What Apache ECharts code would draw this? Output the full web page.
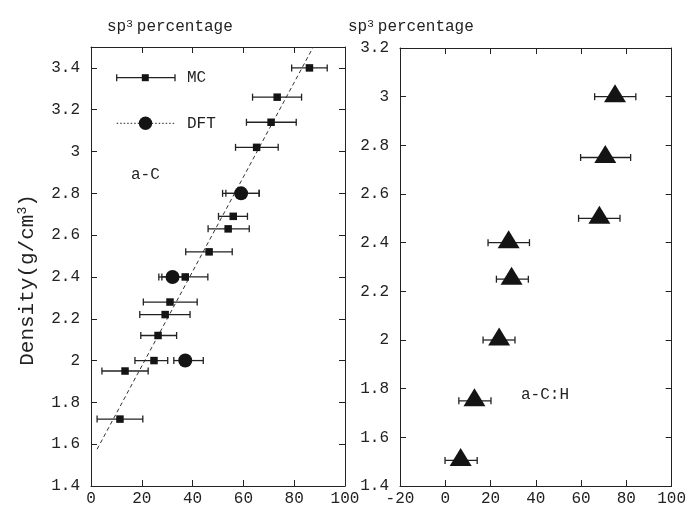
<!DOCTYPE html>
<html>
<head>
<meta charset="utf-8">
<script src="https://cdn.jsdelivr.net/npm/echarts@6/dist/echarts.min.js"></script>
<style>html,body{margin:0;padding:0;background:#fff}#c{width:689px;height:507px}</style>
</head>
<body>
<div id="c"></div>
<script>
// ---- Left panel (a-C): MC points with horizontal error bars
const mcX  = [86.0, 73.3, 70.9, 65.2, 59.5, 56.0, 54.0, 46.5, 37.1, 31.1, 29.2, 26.4, 24.8, 13.4, 11.4];
const mcY  = [3.40, 3.26, 3.14, 3.02, 2.80, 2.69, 2.63, 2.52, 2.40, 2.28, 2.22, 2.12, 2.00, 1.95, 1.72];
const mcLo = [79.0, 63.6, 61.2, 56.9, 53.1, 50.2, 46.1, 37.3, 27.9, 20.6, 19.2, 19.6, 17.3, 4.3, 2.4];
const mcHi = [93.0, 82.9, 80.8, 73.7, 66.2, 61.6, 62.3, 55.6, 46.0, 41.8, 39.0, 33.7, 30.2, 22.5, 20.4];
// DFT points
const dftX  = [59.1, 32.1, 37.1];
const dftY  = [2.80, 2.40, 2.00];
const dftLo = [51.8, 26.7, 32.6];
const dftHi = [66.2, 37.5, 44.2];
// dashed fit line end points
const fitX = [2.4, 87.5];
const fitY = [1.576, 3.50];
// ---- Right panel (a-C:H)
const achX  = [75.0, 70.7, 68.1, 28.0, 29.3, 23.8, 12.9, 6.8];
const achY  = [3.00, 2.75, 2.50, 2.40, 2.25, 2.00, 1.75, 1.505];
const achLo = [66.0, 59.8, 58.9, 18.9, 22.6, 16.7, 6.0, -0.1];
const achHi = [84.2, 81.9, 77.2, 37.2, 36.7, 30.8, 20.2, 14.1];
// axis ranges / labels
const leftXRange = [0, 100], rightXRange = [-20, 100];
const leftYRange = [1.4, 3.5], rightYRange = [1.4, 3.2];
const titleText = 'sp{sup|3}percentage';
const yName = 'Density(g/cm{sup|3})';
const mcName = 'MC', dftName = 'DFT', leftTag = 'a-C', rightTag = 'a-C:H';

const FONT = "'Liberation Mono', 'DejaVu Sans Mono', monospace";
const INK = '#222';
const MARK = '#141414';

const chart = echarts.init(document.getElementById('c'), null, {renderer: 'canvas'});

function zip4(a, b, c, d) { return a.map((v, i) => [v, b[i], c[i], d[i]]); }
function zip2(a, b) { return a.map((v, i) => [v, b[i]]); }

function errRender(params, api) {
  const y = api.value(1), lo = api.value(2), hi = api.value(3);
  const p1 = api.coord([lo, y]), p2 = api.coord([hi, y]);
  const h = 3.5;
  const st = {stroke: INK, lineWidth: 1.3};
  return {type: 'group', children: [
    {type: 'line', shape: {x1: p1[0], y1: p1[1], x2: p2[0], y2: p2[1]}, style: st},
    {type: 'line', shape: {x1: p1[0], y1: p1[1] - h, x2: p1[0], y2: p1[1] + h}, style: st},
    {type: 'line', shape: {x1: p2[0], y1: p2[1] - h, x2: p2[0], y2: p2[1] + h}, style: st}
  ]};
}

function axis(kind, grid, pos, range, interval, showLabel) {
  return {
    type: 'value', gridIndex: grid, position: pos, min: range[0], max: range[1], interval: interval,
    axisLine: {show: true, onZero: false, lineStyle: {color: INK, width: 1}},
    axisTick: {show: true, inside: true, length: 6, lineStyle: {color: INK, width: 1}},
    axisLabel: {show: showLabel, color: INK, fontFamily: FONT, fontSize: 16,
                margin: kind === 'x' ? 5 : 11, showMaxLabel: true},
    splitLine: {show: false}
  };
}

const xAxes = [
  axis('x', 0, 'bottom', leftXRange, 20, true),
  axis('x', 0, 'top', leftXRange, 20, false),
  axis('x', 1, 'bottom', rightXRange, 20, true),
  axis('x', 1, 'top', rightXRange, 20, false)
];
const yAxes = [
  axis('y', 0, 'left', leftYRange, 0.2, true),
  axis('y', 0, 'right', leftYRange, 0.2, false),
  axis('y', 1, 'left', rightYRange, 0.2, true),
  axis('y', 1, 'right', rightYRange, 0.2, false)
];
yAxes[0].axisLabel.showMaxLabel = false;

const supRich = {sup: {fontSize: 11, fontFamily: FONT, fill: INK, verticalAlign: 'top', lineHeight: 12, padding: [0, 4, 0, 0]}};

function txt(x, y, text, size) {
  return {
    type: 'text', x: x, y: y, silent: true,
    style: {text: text, fill: INK, font: size + 'px ' + FONT, align: 'left', verticalAlign: 'middle'}
  };
}

const graphics = [
  // titles
  {type: 'text', x: 107, y: 27, style: {text: titleText, fill: INK, fontFamily: FONT, fontSize: 16,
    align: 'left', verticalAlign: 'middle', rich: supRich}},
  {type: 'text', x: 348, y: 27, style: {text: titleText, fill: INK, fontFamily: FONT, fontSize: 16,
    align: 'left', verticalAlign: 'middle', rich: supRich}},
  // y axis name
  {type: 'text', x: 27, y: 280, rotation: Math.PI / 2, style: {text: yName, fill: INK, fontFamily: FONT,
    fontSize: 21, align: 'center', verticalAlign: 'middle',
    rich: {sup: {fontSize: 13, fontFamily: FONT, fill: INK, verticalAlign: 'top', lineHeight: 12}}}},
  // legend MC sample
  {type: 'line', shape: {x1: 116.7, y1: 77.7, x2: 175, y2: 77.7}, style: {stroke: INK, lineWidth: 1.3}},
  {type: 'line', shape: {x1: 116.7, y1: 74.2, x2: 116.7, y2: 81.2}, style: {stroke: INK, lineWidth: 1.3}},
  {type: 'line', shape: {x1: 175, y1: 74.2, x2: 175, y2: 81.2}, style: {stroke: INK, lineWidth: 1.3}},
  {type: 'rect', shape: {x: 141.8, y: 74.2, width: 7, height: 7}, style: {fill: MARK}},
  txt(187, 78, mcName, 16),
  // legend DFT sample
  {type: 'line', shape: {x1: 116.7, y1: 123.3, x2: 175, y2: 123.3}, style: {stroke: INK, lineWidth: 1, lineDash: [1.5, 2]}},
  {type: 'circle', shape: {cx: 145.5, cy: 123.3, r: 6.7}, style: {fill: MARK}},
  txt(187, 124, dftName, 16),
  // panel tags
  txt(131, 175, leftTag, 16),
  txt(521, 395, rightTag, 16)
];

const option = {
  animation: false,
  backgroundColor: '#fff',
  grid: [
    {left: 91, top: 47, width: 254, height: 441},
    {left: 400, top: 48, width: 276, height: 439}
  ],
  xAxis: xAxes,
  yAxis: yAxes,
  graphic: graphics,
  series: [
    {type: 'line', xAxisIndex: 0, yAxisIndex: 0, data: zip2(fitX, fitY), symbol: 'none', silent: true,
     lineStyle: {color: '#333', width: 1, type: [4, 3]}, z: 1},
    {type: 'custom', xAxisIndex: 0, yAxisIndex: 0, data: zip4(mcX, mcY, mcLo, mcHi), renderItem: errRender,
     encode: {x: 0, y: 1}, z: 2},
    {type: 'custom', xAxisIndex: 0, yAxisIndex: 0, data: zip4(dftX, dftY, dftLo, dftHi), renderItem: errRender,
     encode: {x: 0, y: 1}, z: 2},
    {type: 'scatter', name: mcName, xAxisIndex: 0, yAxisIndex: 0, data: zip2(mcX, mcY), symbol: 'rect',
     symbolSize: 7.5, itemStyle: {color: MARK, opacity: 1}, z: 3},
    {type: 'scatter', name: dftName, xAxisIndex: 0, yAxisIndex: 0, data: zip2(dftX, dftY), symbol: 'circle',
     symbolSize: 14, itemStyle: {color: MARK, opacity: 1}, z: 4},
    {type: 'custom', xAxisIndex: 2, yAxisIndex: 2, data: zip4(achX, achY, achLo, achHi), renderItem: errRender,
     encode: {x: 0, y: 1}, z: 2},
    {type: 'scatter', xAxisIndex: 2, yAxisIndex: 2, data: zip2(achX, achY), symbol: 'triangle',
     symbolSize: [22, 18], symbolOffset: [0, -3.5], itemStyle: {color: MARK, opacity: 1}, z: 3}
  ]
};
chart.setOption(option);
</script>
</body>
</html>
